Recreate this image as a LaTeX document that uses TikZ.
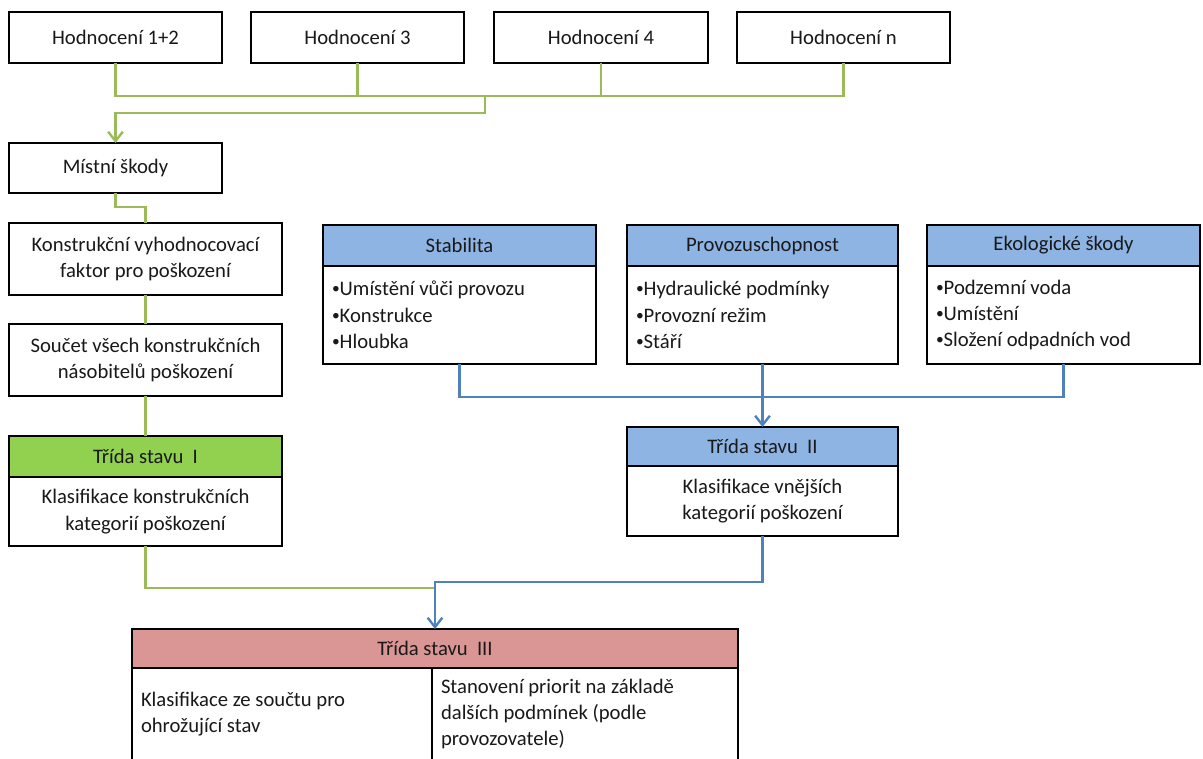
\documentclass[tikz,border=0pt]{standalone}
\usepackage{fontspec}
\setmainfont{Carlito}
\usetikzlibrary{arrows.meta,calc}
\definecolor{gline}{HTML}{9BBB59}
\definecolor{bline}{HTML}{4F81BD}
\definecolor{bfill}{HTML}{8EB4E3}
\definecolor{gfill}{HTML}{92D050}
\definecolor{rfill}{HTML}{D99694}
\def\u{0.75pt}
\newcommand{\bul}{\raisebox{0.1em}{\scalebox{0.75}{•}}}
\begin{document}
\begin{tikzpicture}[x=0.75pt,y=-0.75pt,
  every node/.style={font=\fontsize{15.5}{19.8}\selectfont, text=black!90},
  box/.style={draw=black, line width=1.6pt, fill=white, outer sep=0pt, inner sep=0pt, anchor=north west, align=center},
  listbox/.style={box, align=flush left},
  sz/.style 2 args={minimum width=#1*\u, minimum height=#2*\u},
  gcon/.style={draw=gline, line width=2.2pt},
  bcon/.style={draw=bline, line width=2.2pt},
  tip/.style={-{Straight Barb[length=7pt,width=11pt,line width=1.8pt]}}
]
\useasboundingbox (0,0) rectangle (1203,758);

% top row
\node[box, sz={213}{51}] (h1) at (9,12) {Hodnocení 1+2};
\node[box, sz={213}{51}] (h3) at (251,12) {Hodnocení 3};
\node[box, sz={214}{51}] (h4) at (494,12) {Hodnocení 4};
\node[box, sz={213}{51}] (hn) at (737,12) {Hodnocení n};

% left column
\node[box, sz={213}{50}] (mistni) at (9,143) {Místní škody};
\node[box, sz={273}{72}] (konst) at (9,223) {Konstrukční vyhodnocovací\\faktor pro poškození};
\node[box, sz={273}{72}] (soucet) at (9,324) {Součet všech konstrukčních\\násobitelů poškození};
\node[box, sz={273}{41}, fill=gfill] (t1h) at (9,436) {Třída stavu\hspace{0.45em}I};
\node[box, sz={273}{69}] (t1) at (9,477) {Klasifikace konstrukčních\\kategorií poškození};

% right group
\node[box, sz={273}{41}, fill=bfill] (stabh) at (323,225) {Stabilita};
\node[listbox, sz={273}{98}, text width=255*\u, inner xsep=9*\u] (stab) at (323,266) {\bul Umístění vůči provozu\\\bul Konstrukce\\\bul Hloubka};
\node[box, sz={271}{41}, fill=bfill] (provh) at (627,225) {Provozuschopnost};
\node[listbox, sz={271}{98}, text width=253*\u, inner xsep=9*\u] (prov) at (627,266) {\bul Hydraulické podmínky\\\bul Provozní režim\\\bul Stáří};
\node[box, sz={273}{41}, fill=bfill] (ekoh) at (927,225) {Ekologické škody};
\node[listbox, sz={273}{98}, text width=255*\u, inner xsep=9*\u] (eko) at (927,266) {\bul Podzemní voda\\\bul Umístění\\\bul Složení odpadních vod};

\node[box, sz={271}{39}, fill=bfill] (t2h) at (627,427) {Třída stavu\hspace{0.45em}II};
\node[box, sz={271}{70}] (t2) at (627,466) {Klasifikace vnějších\\kategorií poškození};

% bottom
\node[box, sz={606}{39}, fill=rfill] (t3h) at (132,629) {Třída stavu\hspace{0.45em}III};
\node[listbox, sz={300}{92}, text width=282*\u, inner xsep=9*\u] (t3a) at (132,668) {Klasifikace ze součtu pro\\ohrožující stav};
\node[listbox, sz={306}{92}, text width=288*\u, inner xsep=9*\u] (t3b) at (432,668) {Stanovení priorit na základě\\dalších podmínek (podle\\provozovatele)};

% green connectors
\coordinate (gbus) at (485,96);
\draw[gcon] (h1.south) |- ($(hn.south)+(0,33)$) -- (hn.south);
\draw[gcon] (h3.south) -- ++(0,33);
\draw[gcon] (h4.south) -- ++(0,33);
\draw[gcon, tip] (gbus) -- ++(0,17) -| (mistni.north);
\draw[gcon] (mistni.south) -- ++(0,14) -| (konst.north);
\draw[gcon] (konst.south) -- (soucet.north);
\draw[gcon] (soucet.south) -- (t1h.north);
\coordinate (gend) at (435,588);
\draw[gcon] (t1.south) |- (gend);

% blue connectors
\draw[bcon] (stab.south) |- ($(eko.south)+(0,33)$) -- (eko.south);
\draw[bcon, tip] (prov.south) -- (t2h.north);
\draw[bcon, tip] (t2.south) -- ++(0,46) -| (t3h.north);
\end{tikzpicture}
\end{document}
